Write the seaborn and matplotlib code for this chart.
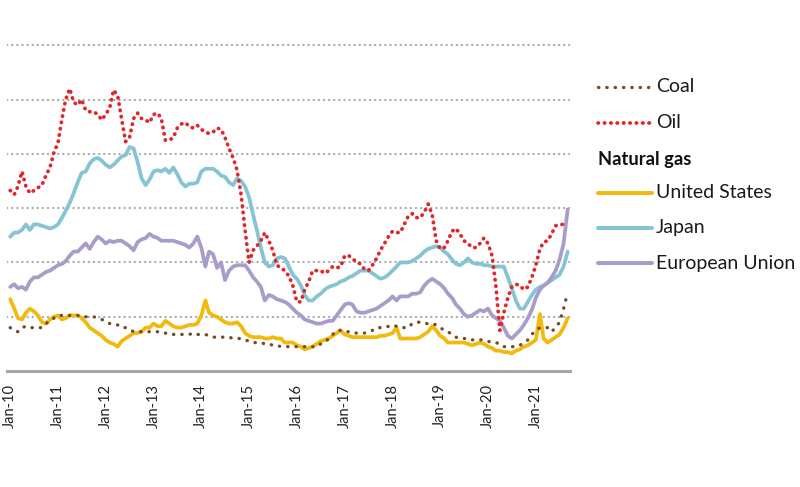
import matplotlib
matplotlib.use("Agg")
import matplotlib.pyplot as plt
from matplotlib.lines import Line2D
import numpy as np
import pandas as pd
import seaborn as sns

sns.set_style("white")
plt.rcParams['font.family'] = ['Lato', 'DejaVu Sans']

# Monthly prices, USD/MBtu, Jan 2010 - Sep 2021
months = pd.date_range("2010-01-01", periods=141, freq="MS")

oil = [13.3, 13.0, 13.6, 14.7, 13.6, 13.1, 13.3, 13.5, 13.7, 14.4, 15.0, 16.1,
       16.8, 18.6, 20.0, 20.8, 19.8, 19.6, 20.0, 19.2, 19.1, 19.1, 18.9, 18.5,
       18.9, 19.4, 20.7, 20.3, 18.6, 16.9, 17.2, 18.6, 19.0, 18.6, 18.5, 18.3,
       18.9, 19.0, 18.6, 17.0, 17.0, 17.2, 17.9, 18.2, 18.3, 18.0, 17.9, 18.1,
       17.8, 17.6, 17.5, 17.6, 17.9, 17.8, 17.2, 16.4, 15.7, 14.8, 13.0, 10.4,
       8.0, 8.9, 9.2, 9.6, 10.2, 9.6, 8.9, 7.8, 7.6, 7.4, 7.0, 6.3,
       5.1, 5.1, 6.0, 6.6, 7.4, 7.4, 7.4, 7.2, 7.4, 7.7, 7.6, 7.7,
       8.5, 8.5, 8.3, 8.0, 7.9, 7.5, 7.4, 7.8, 8.3, 8.9, 9.4, 9.9,
       10.3, 10.2, 10.2, 10.8, 11.4, 11.6, 11.3, 11.3, 11.7, 12.3, 11.5, 9.6,
       9.0, 9.1, 9.6, 10.3, 10.5, 10.1, 9.6, 9.4, 9.1, 9.1, 9.4, 9.8,
       9.4, 8.5, 6.3, 3.0, 4.3, 5.4, 6.2, 6.4, 6.3, 6.0, 6.2, 6.9,
       7.8, 9.0, 9.5, 9.6, 10.1, 10.7, 10.8, 10.8, 10.9]

coal = [3.2, 3.0, 2.9, 3.2, 3.3, 3.2, 3.2, 3.2, 3.2, 3.5, 3.7, 3.9,
        4.1, 4.1, 4.1, 4.1, 4.1, 4.1, 4.0, 4.0, 4.0, 4.0, 3.9, 3.8,
        3.7, 3.5, 3.5, 3.4, 3.2, 3.2, 3.1, 2.9, 2.9, 2.9, 2.9, 2.9,
        2.9, 2.9, 2.9, 2.8, 2.7, 2.7, 2.7, 2.7, 2.7, 2.7, 2.8, 2.7,
        2.7, 2.7, 2.6, 2.5, 2.5, 2.5, 2.5, 2.5, 2.4, 2.4, 2.4, 2.3,
        2.2, 2.1, 2.1, 2.1, 2.0, 2.0, 1.9, 1.9, 1.8, 1.8, 1.8, 1.8,
        1.8, 1.8, 1.8, 1.8, 1.8, 1.8, 2.0, 2.1, 2.4, 2.7, 3.0, 3.0,
        2.9, 2.9, 2.8, 2.8, 2.8, 2.8, 2.9, 3.0, 3.2, 3.2, 3.2, 3.3,
        3.4, 3.3, 3.2, 3.2, 3.2, 3.5, 3.6, 3.6, 3.5, 3.5, 3.5, 3.4,
        3.2, 3.0, 2.9, 2.7, 2.5, 2.4, 2.4, 2.4, 2.3, 2.3, 2.3, 2.3,
        2.2, 2.1, 2.1, 2.0, 1.8, 1.8, 1.8, 1.8, 1.9, 2.1, 2.3, 2.7,
        3.0, 3.2, 3.2, 3.2, 2.9, 3.2, 3.6, 4.6, 5.8]

gas_us = [5.3, 4.6, 3.9, 3.8, 4.3, 4.6, 4.4, 4.1, 3.6, 3.5, 3.8, 4.0,
          4.1, 3.8, 3.9, 4.1, 4.1, 4.1, 3.9, 3.6, 3.2, 3.0, 2.8, 2.6,
          2.3, 2.1, 2.0, 1.8, 2.2, 2.4, 2.6, 2.8, 2.8, 2.9, 3.2, 3.2,
          3.5, 3.3, 3.3, 3.7, 3.5, 3.3, 3.2, 3.2, 3.3, 3.4, 3.4, 3.5,
          4.1, 5.2, 4.3, 4.1, 4.0, 3.8, 3.6, 3.5, 3.5, 3.6, 3.3, 2.8,
          2.6, 2.5, 2.5, 2.5, 2.4, 2.4, 2.5, 2.4, 2.4, 2.1, 2.1, 2.1,
          1.9, 1.8, 1.6, 1.7, 1.8, 2.0, 2.2, 2.3, 2.4, 2.6, 2.8, 3.0,
          2.7, 2.6, 2.5, 2.5, 2.5, 2.5, 2.5, 2.5, 2.5, 2.6, 2.6, 2.7,
          2.8, 3.2, 2.4, 2.4, 2.4, 2.4, 2.4, 2.5, 2.7, 2.9, 3.3, 3.0,
          2.6, 2.4, 2.1, 2.1, 2.1, 2.1, 2.1, 2.0, 1.9, 2.0, 2.1, 2.0,
          1.8, 1.7, 1.5, 1.5, 1.4, 1.4, 1.3, 1.5, 1.6, 1.8, 1.9, 2.1,
          2.3, 4.2, 2.4, 2.1, 2.3, 2.5, 2.7, 3.2, 3.9]

gas_japan = [9.9, 10.2, 10.2, 10.4, 10.8, 10.4, 10.8, 10.8, 10.7, 10.6, 10.5, 10.6,
             10.8, 11.3, 11.8, 12.4, 13.1, 13.9, 14.6, 14.7, 15.3, 15.6, 15.7, 15.5,
             15.2, 15.0, 15.2, 15.5, 15.8, 15.9, 16.5, 16.4, 15.4, 14.2, 13.7, 14.1,
             14.7, 14.8, 14.7, 14.9, 14.6, 15.0, 14.5, 13.9, 13.6, 13.8, 13.8, 13.9,
             14.7, 14.9, 14.9, 14.9, 14.7, 14.4, 14.3, 13.9, 13.7, 14.2, 14.0, 13.6,
             12.8, 11.5, 10.4, 9.1, 8.0, 7.7, 7.8, 8.3, 8.4, 8.3, 7.7, 7.1,
             6.8, 6.3, 5.6, 5.2, 5.2, 5.5, 5.7, 6.0, 6.2, 6.3, 6.4, 6.6,
             6.7, 6.9, 7.0, 7.2, 7.4, 7.4, 7.4, 7.2, 7.0, 6.8, 6.9, 7.1,
             7.4, 7.7, 8.0, 8.0, 8.0, 8.1, 8.3, 8.5, 8.8, 9.0, 9.1, 9.2,
             9.1, 8.8, 8.6, 8.2, 7.9, 7.8, 8.0, 8.3, 8.0, 7.9, 7.9, 7.8,
             7.8, 7.7, 7.7, 7.7, 7.7, 6.9, 6.1, 5.2, 4.6, 4.6, 5.1, 5.6,
             6.0, 6.2, 6.3, 6.5, 6.7, 6.9, 7.1, 7.7, 8.8]

gas_eu = [6.2, 6.4, 6.1, 6.2, 6.0, 6.6, 6.9, 6.9, 7.1, 7.3, 7.4, 7.6,
          7.8, 7.9, 8.1, 8.5, 8.8, 8.8, 9.1, 9.4, 9.0, 9.5, 9.9, 9.7,
          9.4, 9.6, 9.5, 9.6, 9.6, 9.4, 9.2, 8.9, 9.5, 9.7, 9.8, 10.1,
          9.9, 9.8, 9.6, 9.6, 9.6, 9.6, 9.5, 9.4, 9.3, 9.1, 9.4, 9.9,
          9.1, 7.7, 8.8, 8.6, 7.6, 8.0, 6.7, 7.4, 7.7, 7.8, 7.8, 7.8,
          7.4, 6.9, 6.6, 6.2, 5.2, 5.6, 5.5, 5.3, 5.2, 5.1, 4.9, 4.6,
          4.3, 4.1, 3.8, 3.7, 3.6, 3.5, 3.5, 3.6, 3.7, 3.7, 4.1, 4.5,
          4.9, 5.0, 4.9, 4.4, 4.3, 4.3, 4.4, 4.5, 4.6, 4.8, 5.0, 5.2,
          5.5, 5.2, 5.5, 5.5, 5.5, 5.7, 5.7, 5.8, 6.3, 6.6, 6.8, 6.6,
          6.4, 6.1, 5.7, 5.4, 4.9, 4.6, 4.2, 4.0, 4.1, 4.3, 4.5, 4.4,
          4.6, 4.1, 3.9, 3.7, 3.2, 2.6, 2.4, 2.7, 3.0, 3.4, 3.9, 4.5,
          5.4, 6.0, 6.3, 6.5, 6.9, 7.4, 8.2, 9.4, 11.9]

tick_labels = ['Jan-10', 'Jan-11', 'Jan-12', 'Jan-13', 'Jan-14', 'Jan-15',
               'Jan-16', 'Jan-17', 'Jan-18', 'Jan-19', 'Jan-20', 'Jan-21']
grid_levels = [4, 8, 12, 16, 20, 24]

c_coal = '#7a4a26'
c_oil = '#e0252b'
c_us = '#f2b90f'
c_japan = '#86c4d4'
c_eu = '#a99cca'

fig = plt.figure(figsize=(8, 4.87), dpi=100)
ax = fig.add_axes([0.009, 0.238, 0.704, 0.762])

for y in grid_levels:
    ax.axhline(y, color='#a8a8a8', linewidth=1.6, linestyle=(0, (0.1, 2.2)),
               dash_capstyle='round', zorder=0)

sns.lineplot(x=months, y=gas_japan, ax=ax, color=c_japan, linewidth=2.7, zorder=2)
sns.lineplot(x=months, y=gas_eu, ax=ax, color=c_eu, linewidth=2.7, zorder=2)
sns.lineplot(x=months, y=gas_us, ax=ax, color=c_us, linewidth=2.7, zorder=3)
sns.lineplot(x=months, y=coal, ax=ax, color=c_coal, linewidth=2.4,
             linestyle=(0, (0.1, 2.4)), dash_capstyle='round', zorder=4)
sns.lineplot(x=months, y=oil, ax=ax, color=c_oil, linewidth=2.7,
             linestyle=(0, (0.1, 1.6)), dash_capstyle='round', zorder=5)

ax.set_xlim(pd.Timestamp("2009-12-09"), pd.Timestamp("2021-09-22"))
ax.set_ylim(0, 27.33)
ax.set_yticks([])
ax.set_xticks(pd.to_datetime([f"20{lbl[-2:]}-01-01" for lbl in tick_labels]))
ax.set_xticklabels(tick_labels, rotation=90, fontsize=10.5, color='#222222')
ax.tick_params(axis='x', length=0, pad=9)
ax.set_xlabel('')
ax.set_ylabel('')
for side in ['top', 'right', 'left']:
    ax.spines[side].set_visible(False)
ax.spines['bottom'].set_color('#a6a6a6')
ax.spines['bottom'].set_linewidth(2.2)

# Legend drawn at the right
def fy(py):
    return 1 - py / 487

def fx(px):
    return px / 800

leg = [
    ('Coal', c_coal, (0, (0.1, 2.4)), 2.4, 87),
    ('Oil', c_oil, (0, (0.1, 1.6)), 2.7, 123),
    ('United States', c_us, '-', 2.9, 193),
    ('Japan', c_japan, '-', 2.9, 228),
    ('European Union', c_eu, '-', 2.9, 263),
]
for label, col, ls, lw, py in leg:
    fig.add_artist(Line2D([fx(598), fx(652)], [fy(py), fy(py)], color=col,
                          linestyle=ls, linewidth=lw, dash_capstyle='round'))
    fig.text(fx(656), fy(py), label, fontsize=14, va='center', ha='left',
             color='#1a1a1a')
fig.text(fx(598), fy(160), 'Natural gas', fontsize=13.2, fontweight='bold',
         va='center', ha='left', color='#111111')

fig.savefig('out.png', dpi=100)
